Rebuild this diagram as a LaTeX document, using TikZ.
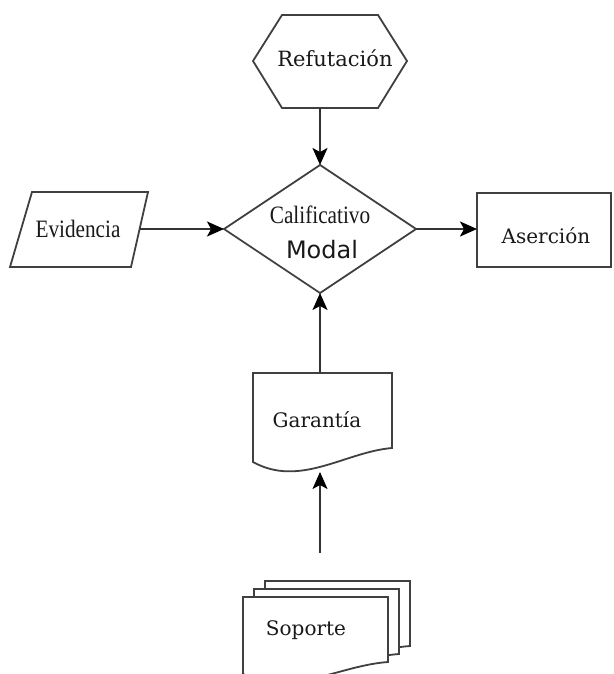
\documentclass[tikz,border=0pt]{standalone}
\usepackage{fontspec}
\setmainfont{DejaVu Serif}
\newfontfamily\timesf{Liberation Serif}
\newfontfamily\sansf{DejaVu Sans}
\usetikzlibrary{arrows.meta}
\begin{document}
\begin{tikzpicture}[x=1pt,y=-1pt,
  shapeline/.style={draw=black!75, line width=1.8pt, fill=white, line join=miter},
  conn/.style={draw=black!80, line width=1.8pt, -{Stealth[length=17pt,width=15pt,inset=4pt,color=black]}},
  lbl/.style={anchor=base, inner sep=0pt, text=black!90, font=\fontsize{20}{24}\selectfont},
  sheet/.pic={\draw[shapeline] (0,0) -- (145,0) -- (145,65) .. controls (96,68.5) and (49,100) .. (0,77) -- cycle;}]
\useasboundingbox (0,0) rectangle (613,674);

% Refutacion (hexagon)
\draw[shapeline] (253,61) -- (282,15) -- (378,15) -- (407,61) -- (378,108) -- (282,108) -- cycle;
\node[lbl, font=\fontsize{21}{24}\selectfont] (ref) at (335,67) {Refutación};
\coordinate (refB) at (320,108);

% Calificativo Modal (diamond)
\draw[shapeline] (224,229) -- (320,165) -- (416,229) -- (320,293) -- cycle;
\node[lbl] (cal) at (320,223) {\timesf\fontsize{25}{28}\selectfont\scalebox{0.85}[1]{Calificativo}};
\node[lbl] (mod) at (322,258) {\sansf\fontsize{24}{28}\selectfont Modal};
\coordinate (calT) at (320,165);
\coordinate (calL) at (224,229);
\coordinate (calR) at (416,229);
\coordinate (calB) at (320,293);

% Evidencia (parallelogram)
\draw[shapeline] (32,192) -- (148,192) -- (131,267) -- (10,267) -- cycle;
\node[lbl] (evi) at (78,237) {\timesf\fontsize{25}{28}\selectfont\scalebox{0.85}[1]{Evidencia}};
\coordinate (eviR) at (140,229);

% Asercion (rectangle)
\draw[shapeline] (477,193) rectangle (611,267);
\node[lbl] (ase) at (546,243) {Aserción};
\coordinate (aseL) at (477,229);

% Garantia (document)
\draw[shapeline] (253,373) -- (392,373) -- (392,448) .. controls (345,452) and (300,488) .. (253,462) -- cycle;
\node[lbl] (gar) at (317,427) {Garantía};
\coordinate (garT) at (320,373);
\coordinate (garB) at (320,472);

% Soporte (multiple documents)
\pic at (265,581) {sheet};
\pic at (254,589) {sheet};
\pic at (243,597) {sheet};
\node[lbl] (sop) at (306,635) {Soporte};
\coordinate (sopT) at (320,553);

% connectors
\draw[conn] (refB) -- (calT);
\draw[conn] (eviR) -- (calL);
\draw[conn] (calR) -- (aseL);
\draw[conn] (garT) -- (calB);
\draw[conn] (sopT) -- (garB);
\end{tikzpicture}
\end{document}
